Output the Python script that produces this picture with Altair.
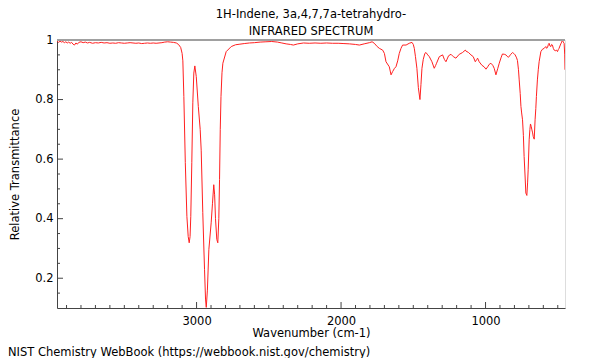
import altair as alt
import pandas as pd

# ---- spectrum ----
wavenumber = [
    3966, 3955, 3945, 3935, 3925, 3915, 3905, 3895, 3885, 3875, 3865, 3855, 3845, 3835, 3825,
    3815, 3800, 3785, 3770, 3755, 3740, 3720, 3700, 3680, 3660, 3640, 3620, 3600, 3580, 3560,
    3540, 3520, 3500, 3480, 3460, 3440, 3420, 3400, 3380, 3360, 3340, 3320, 3300, 3280, 3260,
    3240, 3220, 3200, 3180, 3160, 3140, 3125, 3110, 3100, 3095, 3088, 3078, 3067, 3058, 3051,
    3045, 3040, 3033, 3026, 3019, 3012, 3002, 2988, 2975, 2968, 2957, 2945, 2938, 2933, 2925,
    2915, 2899, 2890, 2881, 2875, 2869, 2860, 2853, 2846, 2841, 2836, 2831, 2824, 2818, 2795,
    2760, 2730, 2700, 2670, 2634, 2600, 2560, 2520, 2480, 2440, 2410, 2380, 2350, 2330, 2300,
    2260, 2220, 2180, 2140, 2100, 2060, 2020, 1980, 1942, 1900, 1873, 1840, 1804, 1785, 1770,
    1750, 1735, 1712, 1700, 1689, 1666, 1654, 1643, 1630, 1620, 1608, 1597, 1585, 1574, 1550,
    1528, 1509, 1500, 1493, 1485, 1475, 1465, 1454, 1447, 1440, 1431, 1420, 1412, 1400, 1389,
    1371, 1355, 1345, 1339, 1320, 1297, 1285, 1274, 1256, 1239, 1223, 1205, 1182, 1170, 1159,
    1140, 1136, 1118, 1101, 1085, 1071, 1060, 1055, 1044, 1025, 1010, 997, 985, 975, 963,
    950, 940, 928, 915, 905, 893, 883, 870, 859, 850, 841, 825, 813, 805, 795,
    785, 779, 772, 767, 760, 755, 750, 744, 738, 733, 727, 721, 714, 709, 705,
    698, 693, 689, 684, 679, 674, 670, 663, 657, 652, 648, 641, 635, 629, 617,
    606, 594, 583, 577, 571, 565, 560, 554, 548, 543, 537, 531, 525, 514, 508,
    502, 496, 491, 485, 479, 473, 468, 462, 456, 452, 450,
]
transmittance = [
    0.997, 0.992, 0.996, 0.993, 0.995, 0.991, 0.994, 0.990, 0.993, 0.989, 0.992, 0.986, 0.983, 0.990, 0.986,
    0.992, 0.994, 0.991, 0.993, 0.990, 0.992, 0.989, 0.991, 0.990, 0.992, 0.990, 0.991, 0.989, 0.990, 0.989,
    0.991, 0.990, 0.989, 0.990, 0.991, 0.990, 0.989, 0.990, 0.988, 0.989, 0.990, 0.989, 0.990, 0.989, 0.990,
    0.991, 0.993, 0.994, 0.993, 0.992, 0.990, 0.985, 0.975, 0.955, 0.930, 0.810, 0.588, 0.408, 0.340, 0.319,
    0.340, 0.408, 0.588, 0.789, 0.889, 0.913, 0.877, 0.777, 0.700, 0.630, 0.420, 0.230, 0.130, 0.102, 0.160,
    0.296, 0.386, 0.450, 0.514, 0.480, 0.400, 0.330, 0.319, 0.400, 0.531, 0.700, 0.810, 0.890, 0.922, 0.961,
    0.978, 0.984, 0.986, 0.988, 0.990, 0.991, 0.993, 0.994, 0.995, 0.993, 0.990, 0.987, 0.985, 0.983, 0.987,
    0.990, 0.989, 0.990, 0.989, 0.990, 0.989, 0.989, 0.988, 0.987, 0.985, 0.983, 0.987, 0.991, 0.994, 0.989,
    0.978, 0.972, 0.966, 0.955, 0.927, 0.910, 0.883, 0.894, 0.905, 0.910, 0.930, 0.955, 0.972, 0.983, 0.983,
    0.989, 0.992, 0.985, 0.972, 0.944, 0.905, 0.840, 0.800, 0.850, 0.905, 0.935, 0.955, 0.958, 0.950, 0.944,
    0.927, 0.905, 0.915, 0.922, 0.944, 0.950, 0.935, 0.927, 0.947, 0.952, 0.944, 0.939, 0.952, 0.955, 0.958,
    0.966, 0.963, 0.958, 0.950, 0.944, 0.927, 0.935, 0.939, 0.927, 0.915, 0.910, 0.902, 0.910, 0.918, 0.922,
    0.915, 0.905, 0.883, 0.905, 0.922, 0.940, 0.953, 0.952, 0.950, 0.945, 0.942, 0.952, 0.958, 0.955, 0.950,
    0.940, 0.931, 0.900, 0.866, 0.820, 0.777, 0.755, 0.732, 0.680, 0.609, 0.550, 0.486, 0.478, 0.520, 0.564,
    0.665, 0.700, 0.718, 0.710, 0.698, 0.688, 0.676, 0.667, 0.732, 0.770, 0.810, 0.866, 0.900, 0.927, 0.961,
    0.969, 0.972, 0.978, 0.972, 0.975, 0.985, 0.989, 0.980, 0.978, 0.985, 0.983, 0.972, 0.966, 0.964, 0.966,
    0.961, 0.968, 0.972, 0.980, 0.987, 0.993, 1.000, 0.993, 0.989, 0.950, 0.900,
]

# ---- axis ticks ----
x_major = [1000, 2000, 3000]
x_minor = [500, 600, 700, 800, 900, 1100, 1200, 1300, 1400, 1500, 1600, 1700, 1800, 1900,
           2100, 2200, 2300, 2400, 2500, 2600, 2700, 2800, 2900, 3100, 3200, 3300, 3400,
           3500, 3600, 3700, 3800, 3900]
y_major = [0.2, 0.4, 0.6, 0.8, 1.0]
y_minor = [0.15, 0.25, 0.3, 0.35, 0.45, 0.5, 0.55, 0.65, 0.7, 0.75, 0.85, 0.9, 0.95]

title_line1 = "1H-Indene, 3a,4,7,7a-tetrahydro-"
title_line2 = "INFRARED SPECTRUM"
footer = "NIST Chemistry WebBook (https://webbook.nist.gov/chemistry)"

FONT = "DejaVu Sans"
FS = 11.5
W, H = 508, 268
AXIS_COLOR = "#444444"

xscale = alt.Scale(domain=[3966, 450], nice=False, zero=False)
yscale = alt.Scale(domain=[0.1, 1.0], nice=False, zero=False)

df = pd.DataFrame({"wn": wavenumber, "t": transmittance})

line = alt.Chart(df).mark_line(color="#ff2020", strokeWidth=1, clip=True).encode(
    x=alt.X("wn:Q", scale=xscale,
            axis=alt.Axis(values=x_major, ticks=False, grid=False, format="d",
                          domainColor=AXIS_COLOR, labelFont=FONT, labelFontSize=FS,
                          labelColor="black", labelPadding=7,
                          title="Wavenumber (cm-1)", titleFont=FONT, titleFontSize=FS,
                          titleFontWeight="normal", titleColor="black", titlePadding=1)),
    y=alt.Y("t:Q", scale=yscale,
            axis=alt.Axis(values=y_major, ticks=False, grid=False, format="~g",
                          domainColor=AXIS_COLOR, labelFont=FONT, labelFontSize=FS,
                          labelColor="black", labelPadding=4,
                          title="Relative Transmittance", titleFont=FONT, titleFontSize=FS,
                          titleFontWeight="normal", titleColor="black", titlePadding=14)),
)

xminor = alt.Chart(pd.DataFrame({"wn": x_minor})).mark_rule(color=AXIS_COLOR, strokeWidth=1).encode(
    x=alt.X("wn:Q", scale=xscale), y=alt.value(H), y2=alt.value(H - 3))
xmajor = alt.Chart(pd.DataFrame({"wn": x_major})).mark_rule(color=AXIS_COLOR, strokeWidth=1).encode(
    x=alt.X("wn:Q", scale=xscale), y=alt.value(H), y2=alt.value(H - 6))
yminor = alt.Chart(pd.DataFrame({"t": y_minor})).mark_rule(color=AXIS_COLOR, strokeWidth=1).encode(
    y=alt.Y("t:Q", scale=yscale), x=alt.value(0), x2=alt.value(3))
ymajor = alt.Chart(pd.DataFrame({"t": y_major})).mark_rule(color=AXIS_COLOR, strokeWidth=1).encode(
    y=alt.Y("t:Q", scale=yscale), x=alt.value(0), x2=alt.value(6))

topline = alt.Chart(pd.DataFrame({"t": [1.0]})).mark_rule(color="#a0a0a0", strokeWidth=2).encode(
    y=alt.Y("t:Q", scale=yscale))

foot = alt.Chart(pd.DataFrame({"s": [footer]})).mark_text(
    align="left", baseline="middle", font=FONT, fontSize=FS, color="black").encode(
    text="s:N", x=alt.value(-49), y=alt.value(313))

chart = alt.layer(line, xminor, xmajor, yminor, ymajor, topline, foot).properties(
    width=W, height=H,
    title=alt.TitleParams(text=title_line1, subtitle=title_line2, font=FONT, subtitleFont=FONT,
                          fontSize=FS, subtitleFontSize=FS, fontWeight="normal",
                          color="black", subtitleColor="black", anchor="middle",
                          offset=-3, subtitlePadding=5.5),
    autosize=alt.AutoSizeParams(type="none"),
    padding={"left": 49, "top": 32, "right": 19, "bottom": 50},
).configure_view(stroke=AXIS_COLOR, strokeWidth=1).configure(background="white")

chart.save("out.html", embed_options={"renderer": "svg", "actions": False})
